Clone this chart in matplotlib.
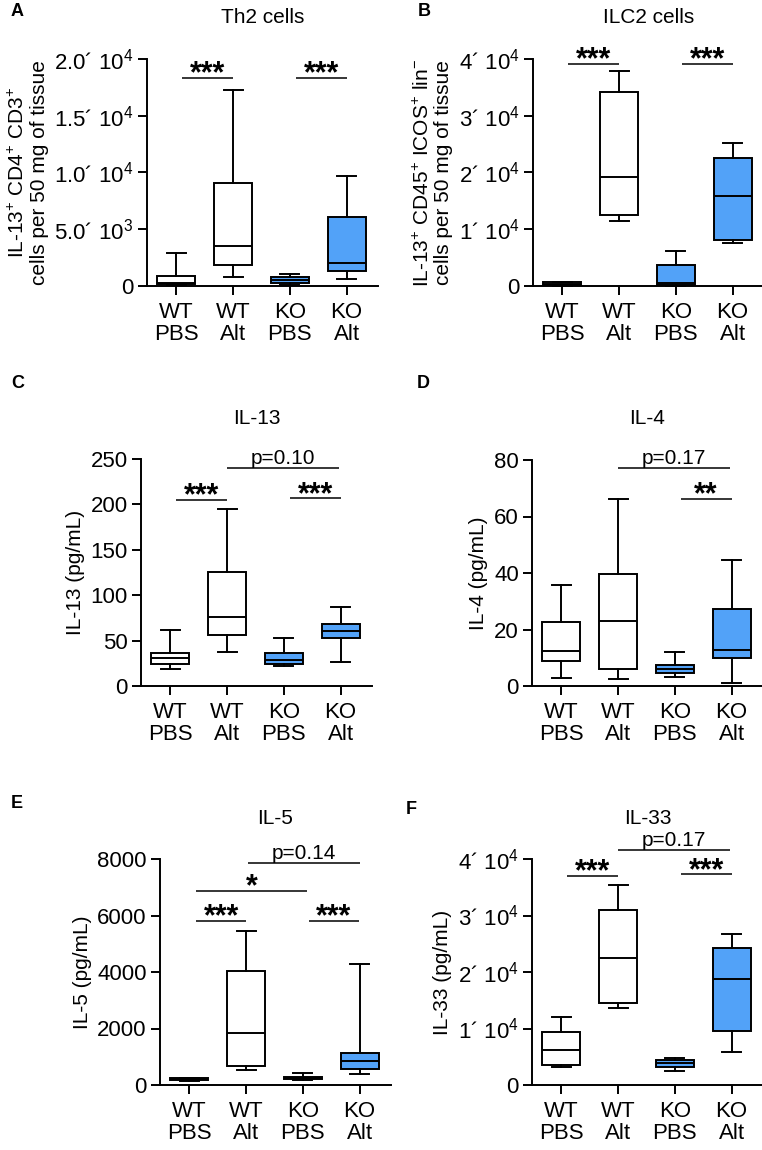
import matplotlib
matplotlib.use('Agg')
import matplotlib.pyplot as plt

plt.rcParams['font.family'] = ['Liberation Sans', 'DejaVu Sans']
plt.rcParams['mathtext.fontset'] = 'custom'
plt.rcParams['mathtext.rm'] = 'Liberation Sans'
plt.rcParams['mathtext.it'] = 'Liberation Sans:italic'
plt.rcParams['mathtext.bf'] = 'Liberation Sans:bold'

groups = ['WT\nPBS', 'WT\nAlt', 'KO\nPBS', 'KO\nAlt']
fills = ['white', 'white', '#52A2F8', '#52A2F8']

# box summaries per group: whisker low, q1, median, q3, whisker high
th2_min = [50, 770, 90, 640]
th2_q1 = [150, 1850, 260, 1350]
th2_med = [300, 3550, 530, 2000]
th2_q3 = [850, 9050, 770, 6050]
th2_max = [2950, 17270, 1060, 9720]

ilc2_min = [50, 11430, 50, 7490]
ilc2_q1 = [100, 12440, 120, 8070]
ilc2_med = [300, 19150, 530, 15850]
ilc2_q3 = [650, 34170, 3660, 22610]
ilc2_max = [700, 37880, 6130, 25160]

il13_min = [18.8, 37.9, 22.4, 26.5]
il13_q1 = [24.3, 56.3, 23.9, 52.6]
il13_med = [30.5, 76.5, 28.7, 61.0]
il13_q3 = [36.0, 126.1, 36.8, 68.0]
il13_max = [61.8, 194.9, 52.9, 86.8]

il4_min = [2.7, 2.5, 3.3, 1.2]
il4_q1 = [8.9, 6.1, 4.7, 9.9]
il4_med = [12.4, 23.0, 5.9, 12.7]
il4_q3 = [22.7, 39.8, 7.6, 27.4]
il4_max = [35.6, 66.1, 11.9, 44.6]

il5_min = [150, 531, 177, 378]
il5_q1 = [165, 684, 205, 566]
il5_med = [200, 1830, 250, 850]
il5_q3 = [240, 4035, 290, 1145]
il5_max = [255, 5440, 420, 4295]

il33_min = [3190, 13630, 2420, 5840]
il33_q1 = [3480, 14450, 3130, 9560]
il33_med = [6140, 22540, 3840, 18820]
il33_q3 = [9320, 30910, 4480, 24300]
il33_max = [12040, 35340, 4780, 26730]

# y ticks and their labels
th2_ticks = [0, 5000, 10000, 15000, 20000]
th2_ticklabels = ['0', '5.0\u00b4 10$^{3}$', '1.0\u00b4 10$^{4}$', '1.5\u00b4 10$^{4}$', '2.0\u00b4 10$^{4}$']
e4_ticks = [0, 10000, 20000, 30000, 40000]
e4_ticklabels = ['0', '1\u00b4 10$^{4}$', '2\u00b4 10$^{4}$', '3\u00b4 10$^{4}$', '4\u00b4 10$^{4}$']
il13_ticks = [0, 50, 100, 150, 200, 250]
il4_ticks = [0, 20, 40, 60, 80]
il5_ticks = [0, 2000, 4000, 6000, 8000]

# significance bars: from group, to group, height, label
th2_sig = [(0.1, 1.0, 18330, '***'), (2.1, 3.0, 18330, '***')]
ilc2_sig = [(0.1, 1.0, 39120, '***'), (2.1, 3.0, 39120, '***')]
il13_sig = [(0.1, 1.0, 205, '***'), (2.1, 3.0, 206.6, '***'), (1.0, 2.97, 240, 'p=0.10')]
il4_sig = [(1.0, 2.97, 77, 'p=0.17'), (2.1, 3.0, 66.3, '**')]
il5_sig = [(0.12, 1.0, 5805, '***'), (0.12, 2.08, 6879, '*'),
           (1.03, 3.0, 7870, 'p=0.14'), (2.1, 2.99, 5817, '***')]
il33_sig = [(0.1, 1.0, 37050, '***'), (2.1, 3.0, 37290, '***'), (1.0, 2.97, 41590, 'p=0.17')]

W, H = 762, 1150
TICK_FS = 16
LABEL_FS = 15
TEXT_FS = 14.5


def add_axes(fig, left, top, bottom):
    width = 230.8
    return fig.add_axes([left / W, 1 - bottom / H, width / W, (bottom - top) / H])


def draw_panel(ax, summary, ticks, ticklabels, title, ylabel, sig):
    stats = [dict(whislo=lo, q1=a, med=m, q3=b, whishi=hi, fliers=[])
             for lo, a, m, b, hi in zip(*summary)]
    lw = 1.4
    bp = ax.bxp(stats, positions=range(4), widths=0.67, patch_artist=True, showfliers=False,
                boxprops=dict(edgecolor='black', linewidth=lw),
                medianprops=dict(color='black', linewidth=lw),
                whiskerprops=dict(color='black', linewidth=lw),
                capprops=dict(color='black', linewidth=lw))
    for patch, c in zip(bp['boxes'], fills):
        patch.set_facecolor(c)
    for key in bp:
        for art in bp[key]:
            art.set_clip_on(False)

    ax.set_xlim(-0.52, 3.55)
    ax.set_ylim(0, ticks[-1])
    ax.set_xticks(range(4))
    ax.set_xticklabels(groups, fontsize=TICK_FS, linespacing=1.05)
    ax.set_yticks(ticks)
    ax.set_yticklabels(ticklabels, fontsize=TICK_FS)
    ax.tick_params(axis='both', length=6.5, width=lw, pad=3)
    ax.tick_params(axis='x', pad=5)
    for s in ['top', 'right']:
        ax.spines[s].set_visible(False)
    for s in ['left', 'bottom']:
        ax.spines[s].set_linewidth(lw)
    ax.set_ylabel(ylabel, fontsize=LABEL_FS, labelpad=4, linespacing=1.1)
    ax.annotate(title, xy=(0.5, 1), xycoords='axes fraction', xytext=(0, 41 * 0.72),
                textcoords='offset points', ha='center', va='center', fontsize=TEXT_FS + 0.5)

    for x1, x2, y, label in sig:
        ax.plot([x1, x2], [y, y], color='black', lw=1.1, clip_on=False, solid_capstyle='butt')
        if label.startswith('p'):
            ax.annotate(label, xy=((x1 + x2) / 2, y), xytext=(0, 3), textcoords='offset points',
                        ha='center', va='baseline', fontsize=TEXT_FS + 0.5, annotation_clip=False)
        else:
            ax.annotate(label, xy=((x1 + x2) / 2, y), xytext=(0, -3.4), textcoords='offset points',
                        ha='center', va='baseline', fontsize=22, fontweight='bold',
                        annotation_clip=False)


if __name__ == '__main__':
    fig = plt.figure(figsize=(W / 100, H / 100), dpi=100)

    axA = add_axes(fig, 147, 59, 286)
    draw_panel(axA, [th2_min, th2_q1, th2_med, th2_q3, th2_max], th2_ticks, th2_ticklabels,
               'Th2 cells', 'IL-13$^{+}$ CD4$^{+}$ CD3$^{+}$\ncells per 50 mg of tissue', th2_sig)

    axB = add_axes(fig, 533, 59, 286)
    draw_panel(axB, [ilc2_min, ilc2_q1, ilc2_med, ilc2_q3, ilc2_max], e4_ticks, e4_ticklabels,
               'ILC2 cells', 'IL-13$^{+}$ CD45$^{+}$ ICOS$^{+}$ lin$^{-}$\ncells per 50 mg of tissue',
               ilc2_sig)

    axC = add_axes(fig, 141, 459, 686)
    draw_panel(axC, [il13_min, il13_q1, il13_med, il13_q3, il13_max], il13_ticks,
               [str(t) for t in il13_ticks], 'IL-13', 'IL-13 (pg/mL)', il13_sig)

    axD = add_axes(fig, 532, 460, 686)
    draw_panel(axD, [il4_min, il4_q1, il4_med, il4_q3, il4_max], il4_ticks,
               [str(t) for t in il4_ticks], 'IL-4', 'IL-4 (pg/mL)', il4_sig)

    axE = add_axes(fig, 160, 859, 1085)
    draw_panel(axE, [il5_min, il5_q1, il5_med, il5_q3, il5_max], il5_ticks,
               [str(t) for t in il5_ticks], 'IL-5', 'IL-5 (pg/mL)', il5_sig)

    axF = add_axes(fig, 532, 859, 1085)
    draw_panel(axF, [il33_min, il33_q1, il33_med, il33_q3, il33_max], e4_ticks, e4_ticklabels,
               'IL-33', 'IL-33 (pg/mL)', il33_sig)

    for letter, x, y in [('A', 17, 12), ('B', 424, 12), ('C', 18, 383),
                         ('D', 423, 383), ('E', 17, 803), ('F', 411, 809)]:
        fig.text(x / W, 1 - y / H, letter, fontsize=13, fontweight='bold', ha='center', va='center')

    fig.savefig('out.png', dpi=100)
